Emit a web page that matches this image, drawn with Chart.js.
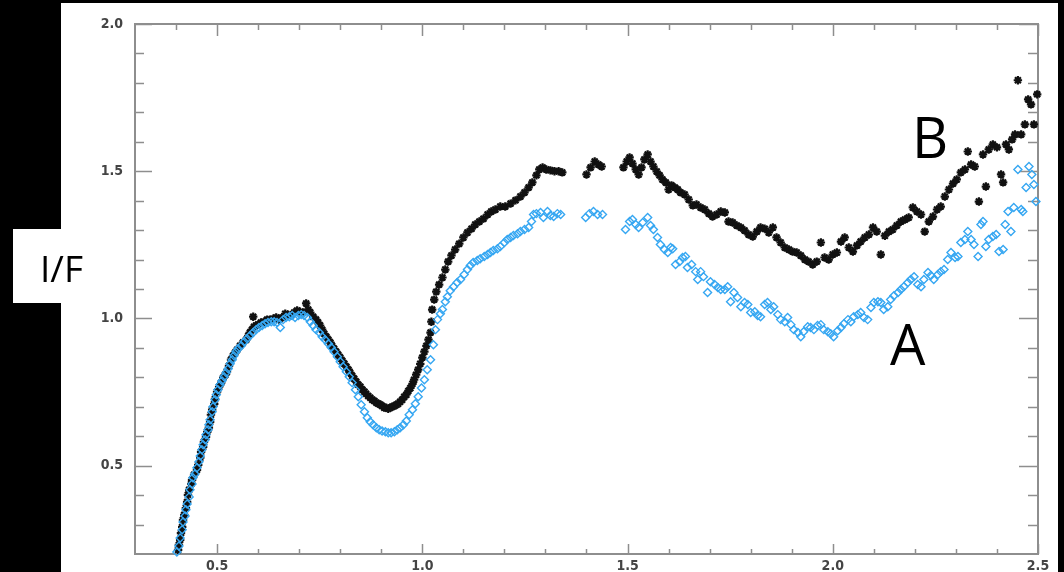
<!DOCTYPE html>
<html>
<head>
<meta charset="utf-8">
<script src="https://cdn.jsdelivr.net/npm/chart.js@4.4.1/dist/chart.umd.min.js"></script>
<style>
  html, body { margin: 0; padding: 0; background: #000; }
  body { width: 1064px; height: 572px; position: relative; overflow: hidden; }
  #panel { position: absolute; left: 61px; top: 3px; width: 997px; height: 569px; background: #fff; }
  #ifBox { position: absolute; left: 13px; top: 229px; width: 48px; height: 74px; background: #fff; }
  #chart { position: absolute; left: 0; top: 0; }
  .lbl { position: absolute; font-family: "Open Sans", "Noto Sans", sans-serif; color: #000; line-height: normal; white-space: nowrap; }
</style>
</head>
<body>
<div id="panel"></div>
<div id="ifBox"></div>
<canvas id="chart" width="1064" height="572"></canvas>
<div class="lbl" style="left:40px; top:242px; font-size:37px;">I/F</div>
<div class="lbl" style="left:912px; top:98px; font-size:56px;">B</div>
<div class="lbl" style="left:890px; top:305px; font-size:56px;">A</div>

<script>
// ---------------- DATA ----------------
// [wavelength, I/F]
const seriesB = [
  [0.405,0.214],[0.407,0.231],[0.410,0.248],[0.412,0.271],[0.415,0.292],[0.417,0.316],[0.420,0.333],
  [0.424,0.356],[0.427,0.377],[0.429,0.401],[0.432,0.418],[0.437,0.438],[0.439,0.452],[0.444,0.469],
  [0.451,0.486],[0.454,0.503],[0.459,0.527],[0.461,0.547],[0.466,0.564],[0.468,0.581],[0.473,0.598],
  [0.476,0.615],[0.480,0.629],[0.483,0.649],[0.485,0.673],[0.488,0.690],[0.493,0.710],[0.495,0.727],
  [0.500,0.751],[0.505,0.768],[0.510,0.782],[0.515,0.799],[0.520,0.809],[0.524,0.819],[0.529,0.839],
  [0.534,0.860],[0.539,0.873],[0.544,0.884],[0.549,0.894],[0.556,0.907],[0.563,0.918],[0.571,0.928],
  [0.576,0.941],[0.580,0.952],[0.585,0.962],[0.588,1.006],[0.590,0.972],[0.595,0.976],[0.600,0.979],
  [0.607,0.986],[0.615,0.989],[0.622,0.996],[0.629,0.996],[0.637,0.999],[0.644,1.003],[0.651,0.996],
  [0.659,1.003],[0.666,1.016],[0.673,1.013],[0.680,1.010],[0.688,1.020],[0.695,1.027],[0.702,1.023],
  [0.710,1.020],[0.717,1.051],[0.722,1.030],[0.727,1.020],[0.734,1.006],[0.741,0.996],[0.746,0.986],
  [0.751,0.976],[0.756,0.962],[0.761,0.948],[0.766,0.938],[0.771,0.928],[0.776,0.918],[0.780,0.907],
  [0.785,0.897],[0.790,0.887],[0.795,0.877],[0.800,0.867],[0.805,0.856],[0.810,0.846],[0.815,0.836],
  [0.820,0.826],[0.824,0.816],[0.829,0.805],[0.834,0.795],[0.839,0.785],[0.844,0.775],[0.849,0.768],
  [0.854,0.758],[0.859,0.751],[0.863,0.744],[0.868,0.737],[0.873,0.731],[0.878,0.724],[0.883,0.720],
  [0.888,0.714],[0.893,0.710],[0.898,0.707],[0.902,0.703],[0.907,0.697],[0.912,0.697],[0.917,0.693],
  [0.922,0.697],[0.927,0.700],[0.932,0.703],[0.937,0.707],[0.941,0.710],[0.946,0.717],[0.951,0.724],
  [0.956,0.734],[0.961,0.741],[0.966,0.754],[0.971,0.764],[0.976,0.778],[0.980,0.792],[0.985,0.809],
  [0.990,0.826],[0.995,0.846],[1.000,0.867],[1.005,0.887],[1.010,0.907],[1.015,0.928],[1.020,0.952],
  [1.022,0.989],[1.024,1.030],[1.029,1.064],[1.034,1.091],[1.041,1.115],[1.049,1.139],[1.056,1.166],
  [1.063,1.193],[1.071,1.214],[1.080,1.234],[1.090,1.254],[1.100,1.275],[1.110,1.292],[1.120,1.305],
  [1.129,1.319],[1.139,1.329],[1.149,1.339],[1.159,1.353],[1.168,1.363],[1.178,1.370],[1.190,1.380],
  [1.202,1.380],[1.215,1.390],[1.227,1.401],[1.239,1.414],[1.249,1.428],[1.259,1.445],[1.268,1.462],
  [1.278,1.486],[1.285,1.506],[1.293,1.513],[1.302,1.506],[1.312,1.503],[1.322,1.500],[1.332,1.500],
  [1.341,1.496],
  [1.400,1.489],[1.410,1.513],[1.420,1.533],[1.429,1.523],[1.437,1.516],
  [1.490,1.513],[1.498,1.533],[1.505,1.547],[1.512,1.526],[1.520,1.506],[1.527,1.489],[1.534,1.513],
  [1.541,1.540],[1.549,1.557],[1.556,1.533],[1.563,1.516],[1.571,1.499],[1.578,1.486],[1.585,1.472],
  [1.593,1.462],[1.600,1.438],[1.607,1.452],[1.615,1.445],[1.622,1.438],[1.629,1.428],[1.639,1.421],
  [1.649,1.404],[1.659,1.384],[1.668,1.387],[1.678,1.377],[1.688,1.370],[1.698,1.356],[1.707,1.346],
  [1.717,1.353],[1.727,1.363],[1.737,1.360],[1.746,1.329],[1.756,1.326],[1.766,1.316],[1.776,1.309],
  [1.785,1.299],[1.795,1.285],[1.805,1.278],[1.815,1.295],[1.824,1.309],[1.834,1.305],[1.844,1.292],
  [1.854,1.309],[1.863,1.275],[1.873,1.258],[1.883,1.241],[1.893,1.234],[1.902,1.227],[1.912,1.224],
  [1.922,1.214],[1.932,1.200],[1.941,1.193],[1.951,1.183],[1.961,1.193],[1.971,1.258],[1.980,1.207],
  [1.990,1.200],[2.000,1.217],[2.010,1.224],[2.020,1.261],[2.029,1.275],[2.039,1.241],[2.049,1.227],
  [2.059,1.248],[2.068,1.261],[2.078,1.275],[2.088,1.285],[2.098,1.309],[2.107,1.295],[2.117,1.217],
  [2.127,1.281],[2.137,1.295],[2.146,1.302],[2.156,1.316],[2.166,1.329],[2.176,1.336],[2.185,1.343],
  [2.195,1.377],[2.205,1.363],[2.215,1.353],[2.224,1.295],[2.234,1.329],[2.244,1.346],[2.254,1.370],
  [2.263,1.380],[2.273,1.414],[2.283,1.438],[2.293,1.458],[2.302,1.472],[2.312,1.496],[2.322,1.506],
  [2.329,1.567],[2.337,1.523],[2.346,1.516],[2.356,1.397],[2.366,1.557],[2.373,1.448],[2.380,1.574],
  [2.390,1.591],[2.400,1.581],[2.410,1.489],[2.415,1.462],[2.422,1.591],[2.429,1.574],[2.437,1.608],
  [2.444,1.625],[2.451,1.809],[2.459,1.625],[2.468,1.659],[2.476,1.744],[2.483,1.727],[2.490,1.659],
  [2.498,1.761]
];

const seriesA = [
  [0.402,0.207],[0.407,0.227],[0.410,0.254],[0.415,0.282],[0.417,0.309],[0.422,0.329],[0.424,0.350],
  [0.427,0.370],[0.432,0.394],[0.434,0.418],[0.439,0.438],[0.441,0.459],[0.446,0.472],[0.451,0.493],
  [0.456,0.513],[0.459,0.533],[0.463,0.554],[0.466,0.571],[0.471,0.588],[0.473,0.605],[0.478,0.622],
  [0.480,0.639],[0.483,0.656],[0.488,0.683],[0.490,0.700],[0.495,0.724],[0.498,0.741],[0.502,0.758],
  [0.507,0.775],[0.512,0.788],[0.517,0.802],[0.522,0.816],[0.527,0.829],[0.532,0.846],[0.537,0.860],
  [0.541,0.873],[0.546,0.887],[0.551,0.897],[0.559,0.907],[0.566,0.921],[0.573,0.931],[0.580,0.941],
  [0.588,0.952],[0.595,0.962],[0.602,0.969],[0.610,0.976],[0.617,0.982],[0.624,0.986],[0.632,0.989],
  [0.639,0.989],[0.646,0.986],[0.654,0.969],[0.661,0.996],[0.668,1.003],[0.676,1.006],[0.683,1.010],
  [0.690,1.003],[0.698,1.010],[0.705,1.013],[0.712,1.010],[0.720,1.003],[0.727,0.989],[0.734,0.976],
  [0.741,0.962],[0.749,0.952],[0.756,0.938],[0.763,0.928],[0.771,0.914],[0.778,0.901],[0.785,0.887],
  [0.793,0.870],[0.800,0.853],[0.807,0.836],[0.815,0.819],[0.822,0.802],[0.829,0.782],[0.837,0.758],
  [0.844,0.734],[0.851,0.707],[0.859,0.683],[0.866,0.663],[0.873,0.649],[0.880,0.639],[0.888,0.629],
  [0.895,0.622],[0.902,0.618],[0.910,0.615],[0.917,0.612],[0.924,0.612],[0.932,0.615],[0.939,0.622],
  [0.946,0.629],[0.954,0.639],[0.961,0.652],[0.968,0.673],[0.976,0.690],[0.983,0.710],[0.990,0.734],
  [0.998,0.764],[1.005,0.792],[1.012,0.826],[1.020,0.860],[1.027,0.911],[1.032,0.962],[1.037,0.996],
  [1.044,1.016],[1.049,1.030],[1.056,1.057],[1.061,1.074],[1.068,1.094],[1.076,1.108],[1.085,1.122],
  [1.093,1.132],[1.102,1.149],[1.110,1.166],[1.117,1.180],[1.124,1.190],[1.134,1.197],[1.141,1.203],
  [1.151,1.210],[1.159,1.217],[1.166,1.224],[1.173,1.231],[1.183,1.237],[1.190,1.244],[1.200,1.258],
  [1.207,1.268],[1.215,1.275],[1.222,1.282],[1.232,1.288],[1.239,1.295],[1.249,1.302],[1.259,1.309],
  [1.266,1.329],[1.271,1.353],[1.278,1.356],[1.288,1.360],[1.295,1.343],[1.305,1.363],[1.312,1.350],
  [1.320,1.346],[1.329,1.356],[1.337,1.353],
  [1.398,1.343],[1.407,1.356],[1.417,1.363],[1.427,1.353],[1.439,1.353],
  [1.495,1.302],[1.505,1.329],[1.512,1.336],[1.520,1.319],[1.527,1.309],[1.537,1.326],[1.549,1.343],
  [1.556,1.316],[1.563,1.302],[1.573,1.275],[1.580,1.251],[1.590,1.234],[1.598,1.224],[1.605,1.241],
  [1.610,1.237],[1.617,1.183],[1.627,1.193],[1.634,1.207],[1.641,1.210],[1.646,1.173],[1.656,1.183],
  [1.666,1.159],[1.671,1.132],[1.678,1.159],[1.685,1.142],[1.695,1.088],[1.702,1.125],[1.712,1.115],
  [1.720,1.105],[1.727,1.098],[1.737,1.098],[1.744,1.108],[1.751,1.057],[1.759,1.088],[1.768,1.071],
  [1.776,1.040],[1.785,1.054],[1.793,1.047],[1.800,1.020],[1.810,1.023],[1.817,1.010],[1.824,1.006],
  [1.834,1.047],[1.841,1.054],[1.849,1.030],[1.856,1.040],[1.866,1.013],[1.873,0.996],[1.883,0.989],
  [1.890,1.003],[1.898,0.979],[1.905,0.962],[1.915,0.952],[1.922,0.938],[1.929,0.955],[1.939,0.972],
  [1.946,0.969],[1.954,0.962],[1.963,0.976],[1.971,0.979],[1.978,0.962],[1.988,0.955],[1.995,0.948],
  [2.002,0.938],[2.012,0.958],[2.020,0.969],[2.027,0.982],[2.037,0.996],[2.044,0.989],[2.051,1.006],
  [2.061,1.013],[2.068,1.020],[2.076,1.003],[2.085,0.996],[2.093,1.037],[2.100,1.054],[2.110,1.057],
  [2.117,1.054],[2.124,1.030],[2.134,1.040],[2.141,1.064],[2.149,1.077],[2.159,1.088],[2.166,1.098],
  [2.173,1.108],[2.183,1.122],[2.190,1.132],[2.198,1.142],[2.207,1.115],[2.215,1.108],[2.222,1.132],
  [2.232,1.156],[2.239,1.146],[2.246,1.132],[2.256,1.149],[2.263,1.159],[2.271,1.166],[2.280,1.200],
  [2.288,1.224],[2.298,1.207],[2.305,1.210],[2.312,1.258],[2.322,1.268],[2.329,1.295],[2.337,1.268],
  [2.344,1.251],[2.354,1.210],[2.361,1.319],[2.366,1.329],[2.373,1.244],[2.380,1.268],[2.390,1.278],
  [2.398,1.285],[2.405,1.227],[2.415,1.234],[2.420,1.319],[2.427,1.363],[2.434,1.295],[2.441,1.377],
  [2.451,1.506],[2.459,1.370],[2.463,1.363],[2.471,1.445],[2.478,1.516],[2.485,1.489],[2.490,1.455],
  [2.495,1.397]
];

const xMajor = [0.5, 1.0, 1.5, 2.0, 2.5];
const xMinor = [0.4, 0.6, 0.7, 0.8, 0.9, 1.1, 1.2, 1.3, 1.4, 1.6, 1.7, 1.8, 1.9, 2.1, 2.2, 2.3, 2.4];
const yMajor = [0.5, 1.0, 1.5, 2.0];
const yMinor = [0.3, 0.4, 0.6, 0.7, 0.8, 0.9, 1.1, 1.2, 1.3, 1.4, 1.6, 1.7, 1.8, 1.9];

const axisColor = "#8e8e8e";
const tickFont = { family: "'DejaVu Sans Condensed', 'Liberation Sans Narrow', 'DejaVu Sans', sans-serif", weight: "bold", size: 14 };

// ---------------- FRAME + INWARD TICKS ----------------
const framePlugin = {
    id: "frame",
    beforeDatasetsDraw(chart) {
        const { ctx, chartArea: a, scales: { x, y } } = chart;
        ctx.save();
        ctx.strokeStyle = axisColor;
        ctx.lineWidth = 2;
        ctx.strokeRect(a.left, a.top, a.right - a.left, a.bottom - a.top);

        ctx.lineWidth = 1.5;
        ctx.beginPath();
        const xTick = (v, lenB, lenT) => {
            const px = Math.round(x.getPixelForValue(v)) + 0.5;
            ctx.moveTo(px, a.bottom); ctx.lineTo(px, a.bottom - lenB);
            ctx.moveTo(px, a.top); ctx.lineTo(px, a.top + lenT);
        };
        const yTick = (v, lenL, lenR) => {
            const py = Math.round(y.getPixelForValue(v)) + 0.5;
            ctx.moveTo(a.left, py); ctx.lineTo(a.left + lenL, py);
            ctx.moveTo(a.right, py); ctx.lineTo(a.right - lenR, py);
        };
        xMajor.forEach(v => xTick(v, 10, 12));
        xMinor.forEach(v => xTick(v, 5, 6));
        yMajor.forEach(v => yTick(v, 17, 19));
        yMinor.forEach(v => yTick(v, 9, 10));
        ctx.stroke();
        ctx.restore();
    }
};

// ---------------- CHART ----------------
const toXY = arr => arr.map(p => ({ x: p[0], y: p[1] }));

new Chart(document.getElementById("chart"), {
    type: "scatter",
    data: {
        datasets: [
            {
                label: "A",
                data: toXY(seriesA),
                pointStyle: "rectRot",
                radius: 4,
                borderWidth: 1.4,
                borderColor: "#36a7f2",
                backgroundColor: "rgba(255,255,255,0)",
                clip: false,
                order: 0
            },
            {
                label: "B",
                data: toXY(seriesB),
                pointStyle: "star",
                radius: 4.2,
                borderWidth: 2.2,
                borderColor: "#111",
                backgroundColor: "#111",
                clip: false,
                order: 1
            }
        ]
    },
    options: {
        responsive: false,
        animation: false,
        devicePixelRatio: 1,
        layout: { padding: { left: 61, right: 26, top: 24, bottom: 0 } },
        plugins: { legend: { display: false }, tooltip: { enabled: false } },
        scales: {
            x: {
                type: "linear",
                min: 0.3,
                max: 2.5,
                grid: { display: false },
                border: { display: false },
                afterBuildTicks: s => { s.ticks = xMajor.map(v => ({ value: v })); },
                afterFit: s => { s.height = 18; },
                ticks: {
                    padding: -4,
                    color: "#444",
                    font: tickFont,
                    maxRotation: 0,
                    callback: v => v.toFixed(1)
                }
            },
            y: {
                type: "linear",
                min: 0.2,
                max: 2.0,
                grid: { display: false },
                border: { display: false },
                afterBuildTicks: s => { s.ticks = yMajor.map(v => ({ value: v })); },
                afterFit: s => { s.width = 74; },
                ticks: {
                    padding: 4,
                    color: "#444",
                    font: tickFont,
                    callback: v => v.toFixed(1)
                }
            }
        }
    },
    plugins: [framePlugin]
});
</script>
</body>
</html>
